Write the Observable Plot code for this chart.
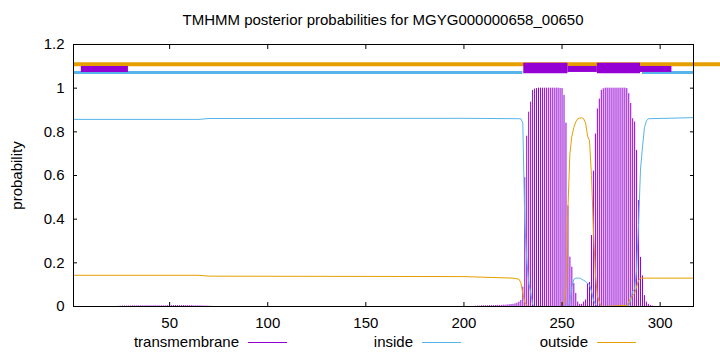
<!DOCTYPE html>
<html>
<head>
<meta charset="utf-8">
<script src="https://cdn.jsdelivr.net/npm/d3@7"></script>
<script src="https://cdn.jsdelivr.net/npm/@observablehq/plot@0.6"></script>
<style>
  body { margin: 0; background: #fff; font-family: "Liberation Sans", Arial, sans-serif; }
  #wrap { width: 720px; height: 352px; position: relative; overflow: hidden; }
  #title { position: absolute; left: 46px; width: 674px; top: 0; height: 36px; line-height: 20px; padding-top: 10px; box-sizing: border-box; text-align: center; font-size: 15px; color: #000; }
  #chart { position: absolute; left: 0; top: 36px; }
  #legend { position: absolute; left: 0; top: 332px; width: 720px; height: 20px; font-size: 15px; color: #000; }
  .lt { position: absolute; top: 0; line-height: 20px; text-align: right; white-space: nowrap; }
  .ll { position: absolute; top: 10px; height: 0; border-top: 1px solid; }
</style>
</head>
<body>
<div id="wrap">
  <div id="title"></div>
  <div id="chart"></div>
  <div id="legend"></div>
</div>
<script>
// ---- data ----
const titleText = "TMHMM posterior probabilities for MGYG000000658_00650";
const seqLength = 317;
const xTicks = [50, 100, 150, 200, 250, 300];
const yTicks = [0, 0.2, 0.4, 0.6, 0.8, 1, 1.2];
const seriesNames = ["transmembrane", "inside", "outside"];
const seriesColors = ["#9400d3", "#56b4e9", "#e69f00"];

// transmembrane posterior (impulses), faint early region
const tmEarlyStart = 24;
const tmEarly = [0.001, 0.001, 0.002, 0.002, 0.002, 0.002, 0.002, 0.003, 0.003, 0.003,
                 0.003, 0.003, 0.003, 0.003, 0.003, 0.003, 0.003, 0.003, 0.003, 0.003,
                 0.003, 0.003, 0.003, 0.003, 0.003, 0.004, 0.004, 0.004, 0.004, 0.004,
                 0.004, 0.004, 0.004, 0.004, 0.004, 0.004, 0.004, 0.004, 0.003, 0.003,
                 0.003, 0.003, 0.003, 0.002, 0.002, 0.002, 0.001, 0.001];
// transmembrane posterior, residues 200..300
const tmStart = 200;
const tmProb = [
  0, 0, 0, 0, 0, 0, 0.001, 0.002, 0.002, 0.003,             // 200-209
  0.003, 0.003, 0.003, 0.004, 0.004, 0.004, 0.004, 0.005, 0.005, 0.005, // 210-219
  0.006, 0.006, 0.007, 0.008, 0.009, 0.01, 0.012, 0.015, 0.02, 0.027,   // 220-229
  0.088, 0.59, 0.78, 0.89, 0.936, 0.99, 0.996, 0.998, 1, 1,             // 230-239
  1, 1, 1, 1, 1, 1, 1, 1, 1, 0.999,                                     // 240-249
  0.998, 0.967, 0.84, 0.46, 0.226, 0.18, 0.105, 0.06, 0.02, 0.01,       // 250-259
  0.01, 0.02, 0.03, 0.105, 0.11, 0.325, 0.62, 0.79, 0.905, 0.95,        // 260-269
  0.99, 0.997, 1, 1, 1, 1, 1, 1, 1, 1,                                  // 270-279
  1, 1, 1, 0.998, 0.975, 0.93, 0.86, 0.845, 0.715, 0.485,               // 280-289
  0.225, 0.14, 0.05, 0.02, 0.01, 0.005, 0.002, 0, 0, 0, 0               // 290-300
];

// inside posterior (line)
const insidePos = [1, 65, 70, 200, 228, 229, 230, 231, 232, 233, 234, 235, 236, 252, 253, 254, 255, 256, 257, 258, 259, 260, 261, 262, 263, 264, 265, 266, 267, 268, 283, 284, 285, 286, 287, 288, 289, 290, 291, 292, 293, 294, 317];
const insideVal = [0.857, 0.857, 0.861, 0.862, 0.86, 0.86, 0.84, 0.39, 0.215, 0.11, 0.064, 0.01, 0, 0, 0, 0.02, 0.09, 0.125, 0.13, 0.13, 0.13, 0.125, 0.12, 0.115, 0.105, 0.1, 0.07, 0.03, 0.01, 0, 0, 0.005, 0.03, 0.07, 0.08, 0.17, 0.38, 0.63, 0.73, 0.82, 0.85, 0.86, 0.865];

// outside posterior (line)
const outsidePos = [1, 65, 70, 200, 225, 228, 229, 230, 231, 232, 233, 250, 251, 252, 253, 254, 255, 256, 257, 258, 259, 260, 261, 262, 263, 264, 265, 266, 267, 268, 269, 270, 283, 284, 285, 286, 287, 288, 289, 290, 317];
const outsideVal = [0.143, 0.143, 0.139, 0.137, 0.13, 0.125, 0.11, 0.06, 0.02, 0.005, 0, 0, 0.02, 0.08, 0.45, 0.7, 0.78, 0.82, 0.845, 0.86, 0.862, 0.865, 0.86, 0.84, 0.78, 0.76, 0.6, 0.35, 0.15, 0.05, 0.02, 0, 0.005, 0.02, 0.04, 0.05, 0.06, 0.09, 0.12, 0.13, 0.13];

// predicted topology track above the curves
const insideSegStart = [1, 291];
const insideSegEnd = [230, 317];
const insideLevel = 1.072;
const outsideSegStart = [1];
const outsideSegEnd = [335];
const outsideLevel = 1.11;
const tmThinStart = [5, 253, 290];
const tmThinEnd = [29, 268, 306];
const tmThinLevel = 1.088;
const tmSegStart = [230.5, 268];
const tmSegEnd = [253, 290];
const tmSegLevel = 1.092;

// ---- build tables ----
const tmRows = [];
tmEarly.forEach((p, i) => tmRows.push({pos: tmEarlyStart + i, p}));
tmProb.forEach((p, i) => tmRows.push({pos: tmStart + i, p}));
const insideRows = insidePos.map((pos, i) => ({pos, p: insideVal[i]}));
const outsideRows = outsidePos.map((pos, i) => ({pos, p: outsideVal[i]}));
const segs = (s, e, level) => s.map((x1, i) => ({x1, x2: e[i], y: level}));
const insideSegs = segs(insideSegStart, insideSegEnd, insideLevel);
const outsideSegs = segs(outsideSegStart, outsideSegEnd, outsideLevel);
const tmThin = segs(tmThinStart, tmThinEnd, tmThinLevel);
const tmSegs = segs(tmSegStart, tmSegEnd, tmSegLevel);

const fmtY = d => String(+d.toFixed(1));

const chart = Plot.plot({
  width: 720,
  height: 296,
  marginTop: 8,
  marginBottom: 26,
  marginLeft: 73,
  marginRight: 27,
  style: {fontFamily: "'Liberation Sans', Arial, sans-serif", fontSize: "15px", color: "#000", background: "#fff", overflow: "visible"},
  x: {domain: [1, seqLength]},
  y: {domain: [0, 1.2]},
  marks: [
    Plot.ruleX(tmRows, {x: "pos", y1: 0, y2: "p", stroke: seriesColors[0], strokeWidth: 1}),
    Plot.line(insideRows, {x: "pos", y: "p", stroke: seriesColors[1], strokeWidth: 1}),
    Plot.line(outsideRows, {x: "pos", y: "p", stroke: seriesColors[2], strokeWidth: 1}),
    Plot.ruleY(insideSegs, {x1: "x1", x2: "x2", y: "y", stroke: seriesColors[1], strokeWidth: 3}),
    Plot.ruleY(outsideSegs, {x1: "x1", x2: "x2", y: "y", stroke: seriesColors[2], strokeWidth: 4}),
    Plot.ruleY(tmThin, {x1: "x1", x2: "x2", y: "y", stroke: seriesColors[0], strokeWidth: 6}),
    Plot.ruleY(tmSegs, {x1: "x1", x2: "x2", y: "y", stroke: seriesColors[0], strokeWidth: 10.5}),
    Plot.frame({stroke: "#000"}),
    Plot.axisX({ticks: xTicks, tickSize: -4, tickPadding: 15, label: null}),
    Plot.axisX({anchor: "top", ticks: xTicks, tickSize: -4, tickFormat: () => "", label: null}),
    Plot.axisY({ticks: yTicks, tickSize: -4, tickPadding: 13, tickFormat: fmtY, label: "probability", labelAnchor: "center", labelArrow: "none", labelOffset: 62}),
    Plot.axisY({anchor: "right", ticks: yTicks, tickSize: -4, tickFormat: () => "", label: null})
  ]
});
document.getElementById("chart").appendChild(chart);
document.getElementById("title").textContent = titleText;

// legend below the SVG
const legend = document.getElementById("legend");
const legendTextRight = [239, 413, 588];
seriesNames.forEach((name, i) => {
  const t = document.createElement("div");
  t.className = "lt";
  t.style.right = (720 - legendTextRight[i]) + "px";
  t.textContent = name;
  legend.appendChild(t);
  const l = document.createElement("div");
  l.className = "ll";
  l.style.left = (legendTextRight[i] + 9) + "px";
  l.style.width = "39px";
  l.style.borderTopColor = seriesColors[i];
  legend.appendChild(l);
});
</script>
</body>
</html>
